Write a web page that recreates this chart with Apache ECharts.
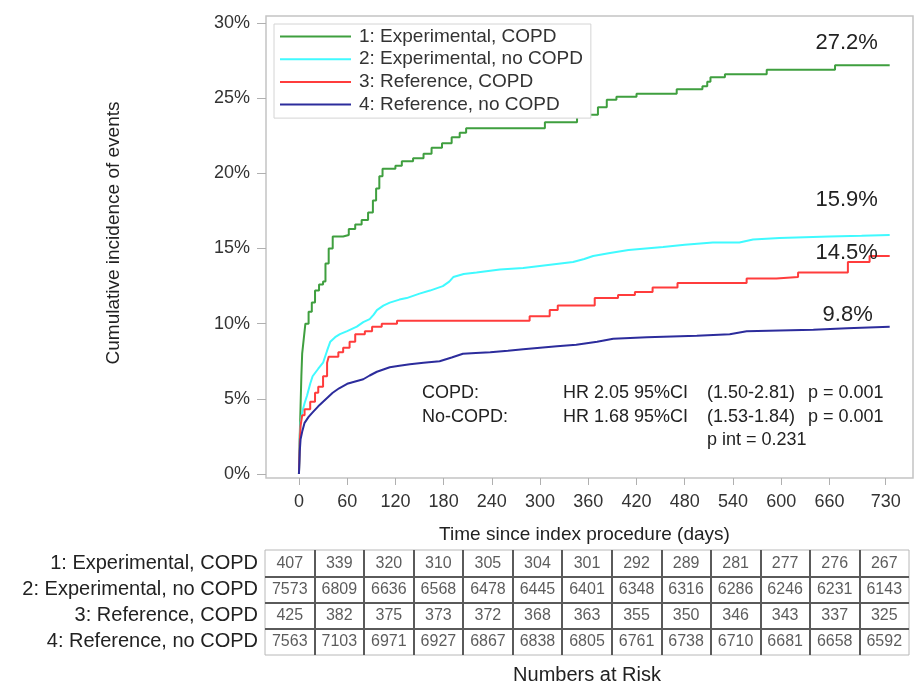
<!DOCTYPE html>
<html>
<head>
<meta charset="utf-8">
<script src="https://cdn.jsdelivr.net/npm/echarts@6/dist/echarts.min.js"></script>
<style>
html, body { margin: 0; padding: 0; background: #fff; }
#km { width: 914px; height: 686px; }
</style>
</head>
<body>
<div id="km"></div>
<script>
// groups (legend + rows of the risk table)
var groups = ['1: Experimental, COPD', '2: Experimental, no COPD', '3: Reference, COPD', '4: Reference, no COPD'];
var dayTicks = [0, 60, 120, 180, 240, 300, 360, 420, 480, 540, 600, 660, 730];
var pctTicks = [0, 5, 10, 15, 20, 25, 30];

// cumulative incidence, [day, %]
var expCopd = [[0,0],[1,2.5],[2,4.5],[3,6.5],[4,8.0],[6,9.0],[8,10.0],[12,10.8],[16,11.4],[20,12.2],[25,12.6],[30,12.8],[33,14.0],[37,15.0],[42,15.8],[55,15.9],[62,16.3],[70,16.6],[78,16.9],[86,17.4],[92,18.2],[96,19.0],[100,19.8],[104,20.3],[120,20.5],[128,20.8],[142,21.0],[155,21.3],[165,21.7],[178,22.0],[190,22.4],[200,22.7],[208,23.0],[306,23.4],[346,23.9],[372,24.4],[383,24.9],[395,25.1],[420,25.3],[470,25.6],[502,25.8],[508,26.1],[512,26.4],[530,26.6],[582,26.9],[667,27.2],[735,27.2]];
var expNoCopd = [[0,0],[1,2.5],[2,3.4],[4,4.1],[7,4.7],[10,5.2],[14,6.0],[17,6.5],[24,7.0],[30,7.4],[35,8.2],[39,8.8],[45,9.1],[51,9.3],[60,9.5],[72,9.8],[80,10.1],[88,10.3],[93,10.6],[97,10.9],[105,11.2],[113,11.4],[125,11.6],[134,11.7],[150,12.0],[163,12.2],[179,12.5],[187,12.8],[192,13.1],[205,13.3],[221,13.4],[250,13.6],[279,13.7],[310,13.9],[341,14.1],[355,14.3],[366,14.5],[387,14.7],[410,14.9],[453,15.1],[480,15.25],[515,15.4],[548,15.4],[565,15.6],[598,15.7],[660,15.8],[700,15.85],[735,15.9]];
var refCopd = [[0,0],[1,2.1],[2,3.2],[4,3.9],[7,4.3],[14,4.8],[20,5.4],[24,5.8],[30,6.5],[35,7.4],[37,7.8],[49,8.1],[55,8.4],[63,8.8],[70,9.3],[82,9.5],[91,9.8],[103,10.0],[122,10.2],[287,10.5],[312,10.9],[322,11.2],[368,11.7],[397,11.9],[418,12.1],[440,12.4],[471,12.7],[557,13.0],[594,13.1],[621,13.4],[683,14.1],[710,14.5],[735,14.5]];
var refNoCopd = [[0,0],[1,1.5],[2,2.3],[4,2.8],[7,3.4],[12,3.8],[17,4.1],[24,4.5],[30,4.8],[36,5.1],[42,5.4],[50,5.7],[60,6.0],[70,6.15],[80,6.3],[88,6.55],[97,6.8],[105,6.95],[113,7.1],[125,7.2],[138,7.3],[155,7.4],[175,7.5],[190,7.75],[204,8.0],[220,8.05],[238,8.1],[260,8.2],[279,8.3],[300,8.4],[321,8.5],[345,8.6],[371,8.8],[391,9.0],[433,9.1],[495,9.2],[536,9.3],[557,9.5],[598,9.55],[640,9.6],[682,9.7],[735,9.8]];

// numbers at risk
var riskExpCopd = [407, 339, 320, 310, 305, 304, 301, 292, 289, 281, 277, 276, 267];
var riskExpNoCopd = [7573, 6809, 6636, 6568, 6478, 6445, 6401, 6348, 6316, 6286, 6246, 6231, 6143];
var riskRefCopd = [425, 382, 375, 373, 372, 368, 363, 355, 350, 346, 343, 337, 325];
var riskRefNoCopd = [7563, 7103, 6971, 6927, 6867, 6838, 6805, 6761, 6738, 6710, 6681, 6658, 6592];

var statRows = [
  ['COPD:', 'HR 2.05 95%CI', '(1.50-2.81)', 'p = 0.001'],
  ['No-COPD:', 'HR 1.68 95%CI', '(1.53-1.84)', 'p = 0.001'],
  ['', '', 'p int = 0.231', '']
];

var FONT = '"Liberation Sans", Arial, sans-serif';
var curves = [expCopd, expNoCopd, refCopd, refNoCopd];
var colors = ['#3f9f3f', '#40faff', '#ff3c3c', '#2c2c9c'];
var steps = ['end', false, 'end', false];
var endOffsets = [[-43, -22], [-43, -35], [-43, -3], [-42, -12]];
var risks = [riskExpCopd, riskExpNoCopd, riskRefCopd, riskRefNoCopd];

var myChart = echarts.init(document.getElementById('km'));

var series = curves.map(function (d, i) {
  var last = d[d.length - 1];
  return {
    name: groups[i],
    type: 'line',
    xAxisIndex: 0,
    yAxisIndex: 0,
    data: d,
    step: steps[i],
    symbol: 'none',
    lineStyle: { color: colors[i], width: 2 },
    itemStyle: { color: colors[i] },
    markPoint: {
      symbol: 'circle',
      symbolSize: 1,
      itemStyle: { color: 'rgba(0,0,0,0)' },
      label: {
        show: true,
        position: 'inside',
        offset: endOffsets[i],
        formatter: last[1].toFixed(1) + '%',
        fontSize: 22,
        fontFamily: FONT,
        color: '#222'
      },
      data: [{ coord: last }]
    }
  };
});

// risk table cells
var cells = [];
risks.forEach(function (row, r) {
  row.forEach(function (v, c) { cells.push([c, r, v]); });
});
series.push({
  type: 'scatter',
  xAxisIndex: 1,
  yAxisIndex: 1,
  data: cells,
  symbolSize: 1,
  silent: true,
  itemStyle: { color: 'rgba(0,0,0,0)' },
  label: {
    show: true,
    position: 'inside',
    formatter: function (p) { return p.value[2]; },
    fontSize: 16,
    fontFamily: FONT,
    color: '#333'
  }
});

// stats text block
var colX = [422, 563, 707, 808];
var rowY = [393, 417, 440];
var graphics = [];
statRows.forEach(function (row, r) {
  row.forEach(function (t, c) {
    if (!t) return;
    graphics.push({
      type: 'text',
      x: colX[c],
      y: rowY[r],
      style: { text: t, fontSize: 18, fontFamily: FONT, fill: '#222', verticalAlign: 'middle' }
    });
  });
});

var option = {
  backgroundColor: '#fff',
  animation: false,
  textStyle: { fontFamily: FONT },
  legend: {
    data: groups,
    orient: 'vertical',
    left: 274,
    top: 24,
    icon: 'rect',
    itemWidth: 71,
    itemHeight: 2,
    itemGap: 3.7,
    padding: [3, 8, 4, 6],
    backgroundColor: '#fff',
    borderColor: '#d4d4d4',
    borderWidth: 1,
    textStyle: { fontSize: 19, fontFamily: FONT, color: '#333', padding: [0, 0, 0, 3] }
  },
  grid: [
    { left: 266, top: 16, width: 647, height: 462, show: true, borderColor: '#c4c4c4', borderWidth: 1.5, backgroundColor: '#fff' },
    { left: 265, top: 550, width: 644, height: 107, show: true, borderColor: '#b8b8b8', borderWidth: 1 }
  ],
  xAxis: [{
    type: 'value',
    gridIndex: 0,
    min: -41,
    max: 764,
    name: 'Time since index procedure (days)',
    nameLocation: 'middle',
    nameGap: 47,
    nameTextStyle: { fontSize: 19, color: '#222', fontFamily: FONT, padding: [0, 10, 0, 0] },
    axisLine: { show: false, onZero: false },
    axisTick: { show: true, customValues: dayTicks, length: 7, lineStyle: { color: '#b0b0b0' } },
    axisLabel: { customValues: dayTicks, margin: 15, fontSize: 18, color: '#333', fontFamily: FONT },
    splitLine: { show: false }
  }, {
    type: 'category',
    gridIndex: 1,
    data: dayTicks.map(String),
    name: 'Numbers at Risk',
    nameLocation: 'middle',
    nameGap: 10,
    nameTextStyle: { fontSize: 20, color: '#222', fontFamily: FONT },
    axisLine: { show: false },
    axisTick: { show: false },
    axisLabel: { show: false },
    splitLine: { show: true, showMinLine: false, showMaxLine: false, lineStyle: { color: '#5a5a5a', width: 2 } }
  }],
  yAxis: [{
    type: 'value',
    gridIndex: 0,
    min: -0.27,
    max: 30.47,
    name: 'Cumulative incidence of events',
    nameLocation: 'middle',
    nameGap: 143,
    nameTextStyle: { fontSize: 19, color: '#222', fontFamily: FONT, padding: [0, 0, 0, 28] },
    axisLine: { show: false, onZero: false },
    axisTick: { show: true, customValues: pctTicks, length: 9, lineStyle: { color: '#b0b0b0' } },
    axisLabel: { customValues: pctTicks, margin: 16, fontSize: 18, color: '#333', fontFamily: FONT, formatter: function (v) { return v + '%'; } },
    splitLine: { show: false }
  }, {
    type: 'category',
    gridIndex: 1,
    inverse: true,
    data: groups,
    axisLine: { show: false },
    axisTick: { show: false },
    axisLabel: { margin: 7, fontSize: 20, color: '#222', fontFamily: FONT },
    splitLine: { show: true, showMinLine: false, showMaxLine: false, lineStyle: { color: '#5a5a5a', width: 2 } }
  }],
  graphic: graphics,
  series: series
};

myChart.setOption(option);
</script>
</body>
</html>
